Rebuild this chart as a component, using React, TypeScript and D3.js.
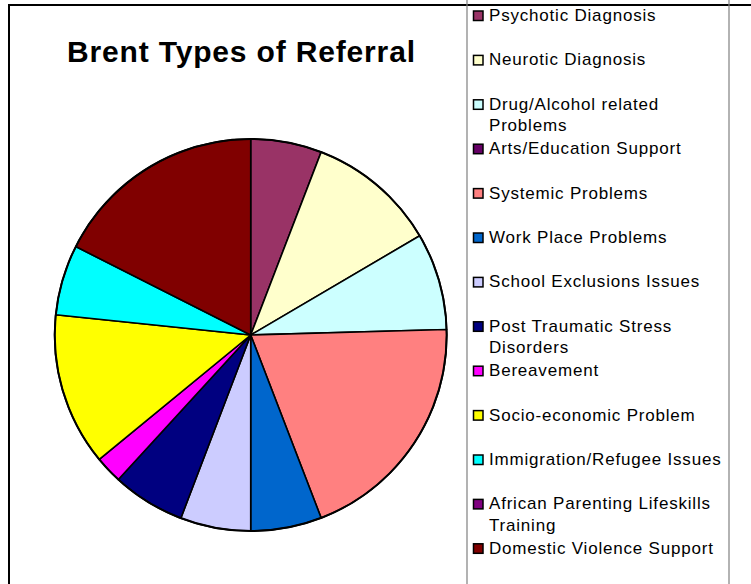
import React from "react";
import * as d3 from "d3";

const categories: string[] = [
  "Psychotic Diagnosis",
  "Neurotic Diagnosis",
  "Drug/Alcohol related\nProblems",
  "Arts/Education Support",
  "Systemic Problems",
  "Work Place Problems",
  "School Exclusions Issues",
  "Post Traumatic Stress\nDisorders",
  "Bereavement",
  "Socio-economic Problem",
  "Immigration/Refugee Issues",
  "African Parenting Lifeskills\nTraining",
  "Domestic Violence Support",
];

const values: number[] = [5.85, 10.7, 8.0, 0, 19.6, 5.85, 5.8, 6.0, 2.25, 12.6, 5.8, 0, 17.55];

const colors: string[] = [
  "#993366",
  "#FFFFCC",
  "#CCFFFF",
  "#660066",
  "#FF8080",
  "#0066CC",
  "#CCCCFF",
  "#000080",
  "#FF00FF",
  "#FFFF00",
  "#00FFFF",
  "#800080",
  "#800000",
];

const title = "Brent Types of Referral";

const W = 751;
const H = 584;

export default function App() {
  const cx = 250.7;
  const cy = 335;
  const r = 196;

  const data = categories.map((c, i) => ({ label: c, value: values[i], color: colors[i] }));
  const pie = d3
    .pie<{ label: string; value: number; color: string }>()
    .sort(null)
    .value((d) => d.value)
    .startAngle(0)
    .endAngle(2 * Math.PI);
  const arcs = pie(data).filter((a) => a.data.value > 0);
  const arcGen = d3
    .arc<d3.PieArcDatum<{ label: string; value: number; color: string }>>()
    .innerRadius(0)
    .outerRadius(r);

  const legendX = 467;
  const legendW = 262;
  const slot = 44.4;
  const firstBaseline = 21;
  const lineGap = 21.5;
  const fontFamily = "Arial, 'Liberation Sans', Helvetica, sans-serif";

  return (
    <svg
      width={W}
      height={H}
      style={{ position: "absolute", left: 0, top: 0, background: "#fff" }}
      fontFamily={fontFamily}
    >
      <rect x={0} y={0} width={W} height={H} fill="#fff" />
      <rect x={9} y={5} width={W + 50} height={H + 50} fill="none" stroke="#000" strokeWidth={2} />

      <text
        x={241}
        y={62}
        textAnchor="middle"
        fontSize={30}
        fontWeight="bold"
        fill="#000"
        textLength={348}
        lengthAdjust="spacing"
      >
        {title}
      </text>

      <g transform={`translate(${cx},${cy})`}>
        {arcs.map((a, i) => (
          <path key={i} d={arcGen(a) || ""} fill={a.data.color} stroke="#000" strokeWidth={1.6} strokeLinejoin="round" />
        ))}
        <circle r={r} fill="none" stroke="#000" strokeWidth={2} />
      </g>

      <rect x={legendX} y={-10} width={legendW} height={H + 40} fill="none" stroke="#808080" strokeWidth={1.2} />
      {data.map((d, i) => {
        const by = firstBaseline + i * slot;
        const lines = d.label.split("\n");
        return (
          <g key={i}>
            <rect x={473.5} y={by - 10} width={9.5} height={9.5} fill={d.color} stroke="#000" strokeWidth={1.5} />
            {lines.map((ln, j) => (
              <text
                key={j}
                x={489}
                y={by + j * lineGap}
                fontSize={17}
                letterSpacing={0.8}
                fill="#000"
              >
                {ln}
              </text>
            ))}
          </g>
        );
      })}
    </svg>
  );
}
